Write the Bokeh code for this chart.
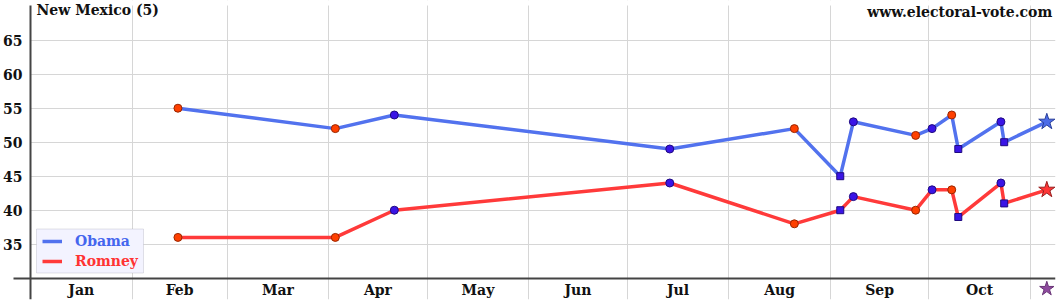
import pandas as pd
from bokeh.plotting import figure
from bokeh.models import (Range1d, FixedTicker, Legend, LegendItem, Label,
                          BoxAnnotation, ColumnDataSource)
from bokeh.embed import file_html
from bokeh.resources import INLINE

# ---------------- data ----------------
poll_dates = ["2012-02-15", "2012-04-03", "2012-04-21", "2012-07-14", "2012-08-21",
              "2012-09-04", "2012-09-08", "2012-09-27", "2012-10-02", "2012-10-08",
              "2012-10-10", "2012-10-23", "2012-10-24"]
obama = [55, 52, 54, 49, 52, 45, 53, 51, 52, 54, 49, 53, 50]
romney = [36, 36, 40, 44, 38, 40, 42, 40, 43, 43, 39, 44, 41]
poll_kind = ["A", "A", "B", "B", "A", "S", "B", "A", "B", "A", "S", "B", "S"]
election_date = "2012-11-06"
obama_final = 53
romney_final = 43
month_labels = ["Jan", "Feb", "Mar", "Apr", "May", "Jun", "Jul", "Aug", "Sep", "Oct"]
y_ticks = [35, 40, 45, 50, 55, 60, 65]
title_text = "New Mexico (5)"
site_text = "www.electoral-vote.com"
series_names = ["Obama", "Romney"]

# ---------------- helpers ----------------
origin = pd.Timestamp("2012-01-01")


def day(s):
    return (pd.Timestamp(s) - origin).days


FONT = "DejaVu Serif"
BLUE_LINE = "#5272ee"
RED_LINE = "#ff3a3a"

xd = [day(d) for d in poll_dates]
ed = day(election_date)
month_starts = [day(d) for d in pd.date_range("2012-01-01", "2012-11-01", freq="MS")]
month_mids = [(a + b) / 2 for a, b in zip(month_starts[:-1], month_starts[1:])]

X0, X1 = -9.12, 312.65
Y0, YTOP, Y1 = 26.87, 70.1, 70.84
p = figure(width=1060, height=300, output_backend="svg", toolbar_location=None,
           x_range=Range1d(X0, X1), y_range=Range1d(Y0, Y1),
           min_border_left=0, min_border_right=5, min_border_top=0,
           min_border_bottom=1, outline_line_color=None,
           background_fill_color="white", border_fill_color="white")

# axes
p.xaxis.fixed_location = 30
p.yaxis.fixed_location = 0
p.xaxis.bounds = (-5.15, X1)
p.yaxis.bounds = (Y0, YTOP)
p.xaxis.ticker = FixedTicker(ticks=month_mids)
p.xaxis.major_label_overrides = {m: lab for m, lab in zip(month_mids, month_labels)}
p.yaxis.ticker = FixedTicker(ticks=y_ticks)
for ax in (p.xaxis, p.yaxis):
    ax.major_tick_out = 0
    ax.major_tick_in = 0
    ax.minor_tick_out = 0
    ax.minor_tick_in = 0
    ax.axis_line_color = "#444444"
    ax.axis_line_width = 2
    ax.major_label_text_font = FONT
    ax.major_label_text_font_style = "bold"
    ax.major_label_text_font_size = "14px"
    ax.major_label_text_color = "#111111"
p.xaxis.major_label_standoff = 4
p.yaxis.major_label_standoff = 8

# grids
p.xgrid.ticker = FixedTicker(ticks=month_starts[1:])
p.ygrid.ticker = FixedTicker(ticks=y_ticks)
p.xgrid.grid_line_color = "#d6d6d6"
p.ygrid.grid_line_color = "#d6d6d6"

# hide horizontal gridlines left of the y axis, and the strip above the plot top
p.add_layout(BoxAnnotation(left=X0, right=0, bottom=30, top=Y1,
                           fill_color="white", fill_alpha=1, line_alpha=0, level="glyph"))
p.add_layout(BoxAnnotation(bottom=YTOP, top=Y1,
                           fill_color="white", fill_alpha=1, line_alpha=0, level="glyph"))

# lines
ox = xd + [ed]
oy = obama + [obama_final]
ry = romney + [romney_final]
l_o = p.line(ox, oy, line_color=BLUE_LINE, line_width=3.5)
l_r = p.line(ox, ry, line_color=RED_LINE, line_width=3.5)

# markers
kind_style = {
    "A": dict(marker="circle", fill_color="#ff4000", line_color="#992600", size=8),
    "B": dict(marker="circle", fill_color="#3a14e6", line_color="#1f0a80", size=8),
    "S": dict(marker="square", fill_color="#3a14e6", line_color="#1f0a80", size=7),
}
for k, st in kind_style.items():
    idx = [i for i, kk in enumerate(poll_kind) if kk == k]
    src = ColumnDataSource(dict(x=[xd[i] for i in idx],
                                yo=[obama[i] for i in idx],
                                yr=[romney[i] for i in idx]))
    p.scatter("x", "yo", source=src, **st)
    p.scatter("x", "yr", source=src, **st)

p.scatter([ed], [obama_final], marker="star", size=17, fill_color="#4c6ce8", line_color="#2a3f99")
p.scatter([ed], [romney_final], marker="star", size=17, fill_color="#ff3636", line_color="#992020")
p.scatter([ed], [28.45], marker="star", size=15, fill_color="#8e4a9e", line_color="#6a3577")

# legend box
p.add_layout(BoxAnnotation(left=36, right=143, bottom=26.5, top=70.5,
                           left_units="screen", right_units="screen",
                           bottom_units="screen", top_units="screen",
                           fill_color="#f3f3ff", fill_alpha=1,
                           line_color="#a0a0b0", line_width=1))

for name, rend, col, ypos in [(series_names[0], l_o, "#4466ee", 48.3),
                              (series_names[1], l_r, "#ff3333", 28.3)]:
    lg = Legend(items=[LegendItem(label=name, renderers=[rend])],
                location=(42, ypos), padding=0, margin=0, spacing=0,
                background_fill_alpha=0, border_line_alpha=0,
                glyph_width=20, glyph_height=20, label_height=20,
                label_standoff=13, label_text_color=col,
                label_text_font=FONT, label_text_font_style="bold",
                label_text_font_size="14px")
    p.add_layout(lg)

# titles
p.add_layout(Label(x=36, y=289.5, x_units="screen", y_units="screen", text=title_text,
                   text_font=FONT, text_font_style="bold", text_font_size="14px",
                   text_baseline="middle", text_color="#111111"))
p.add_layout(Label(x=1051.7, y=287.5, x_units="screen", y_units="screen", text=site_text,
                   text_font=FONT, text_font_style="bold", text_font_size="14px",
                   text_baseline="middle", text_align="right", text_color="#111111"))

open("out.html", "w").write(file_html(p, INLINE))
